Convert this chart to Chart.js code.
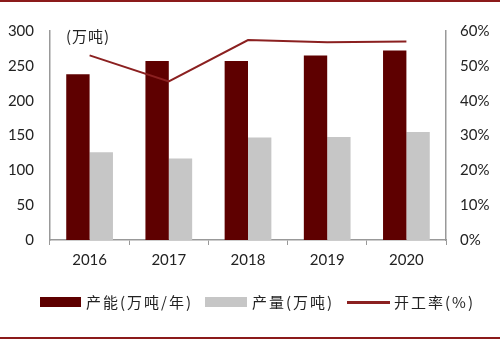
<!DOCTYPE html>
<html>
<head>
<meta charset="utf-8">
<script src="https://cdn.jsdelivr.net/npm/chart.js@4"></script>
<style>
  body { margin: 0; background: #fff; }
  #wrap { position: relative; width: 500px; height: 340px; }
  #wrap:before, #wrap:after { content: ''; position: absolute; left: 0; right: 0; height: 2px; background: #8b1a1a; z-index: 2; }
  #wrap:before { top: 0; }
  #wrap:after { top: 337px; }
  .legend { position: absolute; top: 292px; height: 20px; font: 15px "Noto Sans CJK SC", sans-serif; letter-spacing: 2px; color: #222; line-height: 20px; white-space: nowrap; }
  .box { position: absolute; top: 5px; height: 10px; }
</style>
</head>
<body>
<div id="wrap">
  <canvas id="chart" width="500" height="340"></canvas>
  <div class="box" style="left:40px;width:41px;top:297px;background:#5e0000"></div>
  <div class="legend" style="left:86px">产能(万吨/年)</div>
  <div class="box" style="left:205px;width:42px;top:297px;background:#c6c6c6"></div>
  <div class="legend" style="left:252px">产量(万吨)</div>
  <div class="box" style="left:347px;width:43px;top:301px;height:3px;background:#8b2020"></div>
  <div class="legend" style="left:394px">开工率(%)</div>
</div>
<script>
const years = ['2016', '2017', '2018', '2019', '2020']
const capacity = [238, 257, 257, 265, 272]
const output = [126, 117, 147, 148, 155]
const utilization = [53, 45.5, 57.4, 56.8, 57]
const leftTicks = [0, 50, 100, 150, 200, 250, 300]
const rightTicks = [0, 10, 20, 30, 40, 50, 60]

const tickFont = { family: 'Lato, sans-serif', size: 15 }

// unit label in the top-left of the plot
const unitLabel = {
    id: 'unitLabel',
    afterDraw(chart) {
        const ctx = chart.ctx
        ctx.save()
        ctx.font = '15px "Noto Sans CJK SC", sans-serif'
        ctx.letterSpacing = '1px'
        ctx.fillStyle = '#222'
        ctx.textBaseline = 'middle'
        ctx.fillText('(万吨)', 66, 36)
        ctx.restore()
    }
}

const ctx = document.getElementById('chart').getContext('2d')
new Chart(ctx, {
    type: 'bar',
    data: {
        labels: years,
        datasets: [
            {
                label: '开工率(%)',
                type: 'line',
                data: utilization,
                yAxisID: 'y1',
                borderColor: '#8b2020',
                borderWidth: 2,
                pointRadius: 0,
                tension: 0,
                order: 0
            },
            {
                label: '产能(万吨/年)',
                data: capacity,
                backgroundColor: '#5e0000',
                yAxisID: 'y',
                order: 1
            },
            {
                label: '产量(万吨)',
                data: output,
                backgroundColor: '#c6c6c6',
                yAxisID: 'y',
                order: 2
            }
        ]
    },
    options: {
        responsive: false,
        animation: false,
        layout: { padding: { top: 31, left: 0, right: 0, bottom: 0 } },
        datasets: { bar: { categoryPercentage: 0.59, barPercentage: 1 } },
        plugins: { legend: { display: false }, tooltip: { enabled: false } },
        scales: {
            x: {
                grid: { display: true, drawOnChartArea: false, offset: true, color: '#999', tickLength: 5 },
                border: { color: '#999', width: 1.5 },
                ticks: { font: tickFont, color: '#222', padding: 6 },
                afterFit(scale) { scale.height = 100 }
            },
            y: {
                position: 'left',
                min: 0,
                max: 300,
                afterBuildTicks(scale) { scale.ticks = leftTicks.map(v => ({ value: v })) },
                grid: { display: false },
                border: { color: '#999', width: 1.5 },
                ticks: { font: tickFont, color: '#222', padding: 8 },
                afterFit(scale) { scale.width = 50 }
            },
            y1: {
                position: 'right',
                min: 0,
                max: 60,
                afterBuildTicks(scale) { scale.ticks = rightTicks.map(v => ({ value: v })) },
                grid: { display: false },
                border: { color: '#999', width: 1.5 },
                ticks: { font: tickFont, color: '#222', padding: 6, callback: v => v + '%' },
                afterFit(scale) { scale.width = 54 }
            }
        }
    },
    plugins: [unitLabel]
})
</script>
</body>
</html>
